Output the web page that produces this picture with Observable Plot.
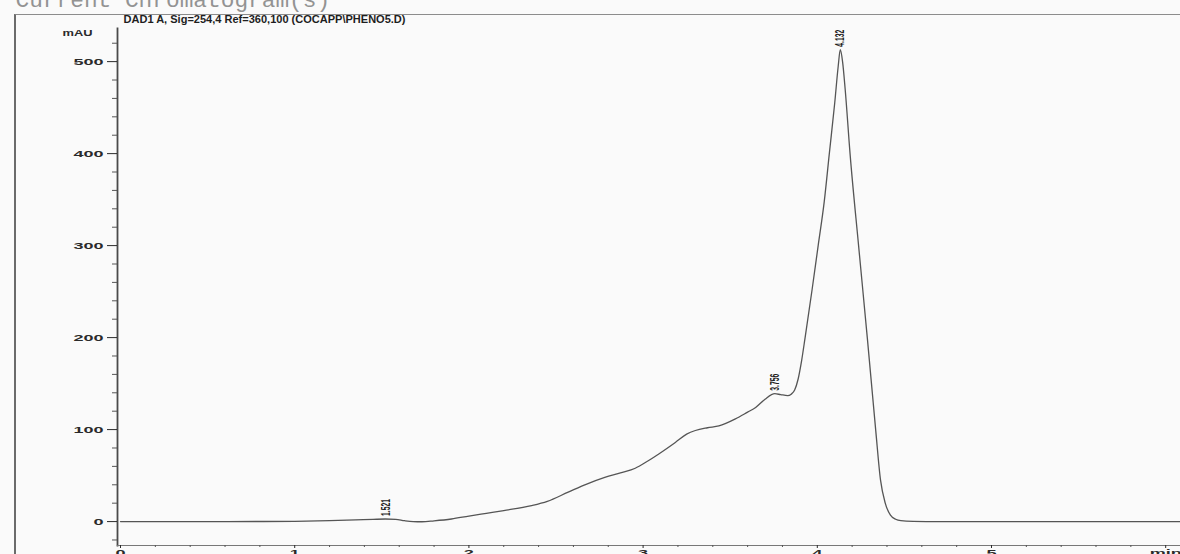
<!DOCTYPE html>
<html>
<head>
<meta charset="utf-8">
<script src="https://cdn.jsdelivr.net/npm/d3@7"></script>
<script src="https://cdn.jsdelivr.net/npm/@observablehq/plot@0.6"></script>
<style>
  html, body { margin: 0; padding: 0; background: #fafafa; }
  #sheet { position: relative; width: 1180px; height: 554px; overflow: hidden; background: #fafafa; }
  #frame { position: absolute; left: 14px; top: 14px; width: 1200px; height: 600px;
           border-left: 2.5px solid #6b6b6b; border-top: 1.5px solid #8c8c8c; }
  #chart { position: absolute; left: 0; top: 0; }
  #chart text { font-weight: bold; }
</style>
</head>
<body>
<div id="sheet"><div id="frame"></div><div id="chart"></div></div>
<script>
// DAD1 A signal, 254 nm: retention time (min) and absorbance (mAU)
const retentionTime = [
  0.00, 0.40, 0.80, 1.00, 1.20, 1.35, 1.45, 1.52, 1.58, 1.63, 1.68, 1.73, 1.80, 1.90,
  2.00, 2.10, 2.20, 2.36, 2.45, 2.57, 2.68, 2.78, 2.87, 2.955, 3.02, 3.09, 3.185, 3.25,
  3.30, 3.37, 3.435, 3.53, 3.60, 3.646, 3.70, 3.756, 3.79, 3.83, 3.85, 3.87, 3.89, 3.91,
  3.93, 3.97, 4.005, 4.04, 4.069, 4.10, 4.12, 4.132, 4.145, 4.16, 4.188, 4.237,
  4.287, 4.335, 4.363, 4.39, 4.42, 4.45, 4.48, 4.55, 4.70, 5.00, 5.50, 6.10
];
const absorbance = [
  0, 0, 0.1, 0.3, 1.0, 1.8, 2.4, 2.8, 2.5, 1.0, 0.0, -0.2, 0.8, 2.8,
  6.0, 9.0, 12.0, 17.4, 22, 32, 41, 48, 53, 58, 65, 73.5, 86, 95,
  99, 102, 104, 111.6, 119, 124, 133, 139, 138, 137, 138.5, 143, 155, 175,
  200, 252, 300, 348, 400, 455, 495, 513, 500, 470, 400, 300,
  200, 100, 45, 20, 7, 2.5, 1, 0.3, 0, 0, 0, 0
];

// integrated peaks
const peakTimes = [1.521, 3.756, 4.132];
const peakHeights = [2.8, 139, 513];
const peakLabels = ["1.521", "3.756", "4.132"];

// axis ticks
const yMajorTicks = [0, 100, 200, 300, 400, 500];
const yMinorTicks = d3.range(-20, 521, 20).filter(v => v % 100 !== 0);
const xMajorTicks = [0, 1, 2, 3, 4, 5, 6];
const xTickLabels = ["0", "1", "2", "3", "4", "5", "min"];
const xMinorTicks = d3.range(0.2, 6.05, 0.2).filter(v => Math.abs(v - Math.round(v)) > 0.01);

const reportTitle = "Current Chromatogram(s)";
const signalTitle = "DAD1 A, Sig=254,4 Ref=360,100 (COCAPP\\PHENO5.D)";
const yUnit = "mAU";

const trace = retentionTime.map((t, i) => ({t, v: absorbance[i]}));
const peakIndex = peakTimes.map((_, i) => i);

const chart = Plot.plot({
  width: 1180,
  height: 554,
  marginLeft: 117,
  marginRight: 0,
  marginTop: 28,
  marginBottom: 9,
  style: {background: "transparent", fontFamily: "'Liberation Sans', Arial, sans-serif", color: "#333", overflow: "visible"},
  x: {domain: [-0.0173, 6.085]},
  y: {domain: [-26, 536]},
  marks: [
    Plot.frame({anchor: "left", stroke: "#4a4a4a", strokeWidth: 1.8}),
    Plot.frame({anchor: "bottom", stroke: "#777", strokeWidth: 1.2}),
    Plot.axisY(yMinorTicks, {anchor: "left", tickSize: 5, tickFormat: () => "", label: null, color: "#555"}),
    Plot.axisY(yMajorTicks, {anchor: "left", tickSize: 10, tickPadding: 4, fontSize: 9.5, label: null, color: "#2a2a2a"}),
    Plot.axisX(xMinorTicks, {anchor: "bottom", tickSize: 2, tickFormat: () => "", label: null, color: "#555"}),
    Plot.axisX(xMajorTicks, {anchor: "bottom", tickSize: 3, tickPadding: 1, fontSize: 9.5, label: null, color: "#2a2a2a",
      tickFormat: d => xTickLabels[xMajorTicks.indexOf(d)]}),
    Plot.text([yUnit], {frameAnchor: "top-left", dx: -40, dy: 1, textAnchor: "middle", fontSize: 9.5, fill: "#2a2a2a"}),
    Plot.text([reportTitle], {frameAnchor: "top-left", dx: -102, dy: -22, textAnchor: "start", lineAnchor: "bottom",
      fontSize: 22.8, fontFamily: "'Liberation Mono', monospace", fill: "#939393"}),
    Plot.text([signalTitle], {frameAnchor: "top-left", dx: 6, dy: -5.5, textAnchor: "start", lineAnchor: "bottom",
      fontSize: 11, fill: "#1e1e1e"}),
    Plot.line(trace, {x: "t", y: "v", curve: "monotone-x", stroke: "#555", strokeWidth: 1.3}),
    Plot.text(peakIndex, {x: i => peakTimes[i], y: i => peakHeights[i], text: i => peakLabels[i],
      rotate: -90, textAnchor: "start", dy: -3, fontSize: 13, fill: "#1e1e1e"})
  ]
});

document.getElementById("chart").append(chart);

// widen or narrow glyph runs to the printed proportions
const texts = d3.select(chart).selectAll("text");
function fitText(match, length) {
  texts.filter(function () { return match(this.textContent); }).each(function () {
    const w = this.getComputedTextLength();
    this.setAttribute("textLength", length(w).toFixed(1));
    this.setAttribute("lengthAdjust", "spacingAndGlyphs");
  });
}
const yLabelSet = new Set(yMajorTicks.map(String));
texts.filter(function () { return this.textContent === reportTitle; }).style("font-weight", "normal");
fitText(s => yLabelSet.has(s) || xTickLabels.includes(s), w => w * 1.9);
fitText(s => s === yUnit, () => 30);
fitText(s => s === signalTitle, () => 282);
fitText(s => peakLabels.includes(s), () => 17);
</script>
</body>
</html>
